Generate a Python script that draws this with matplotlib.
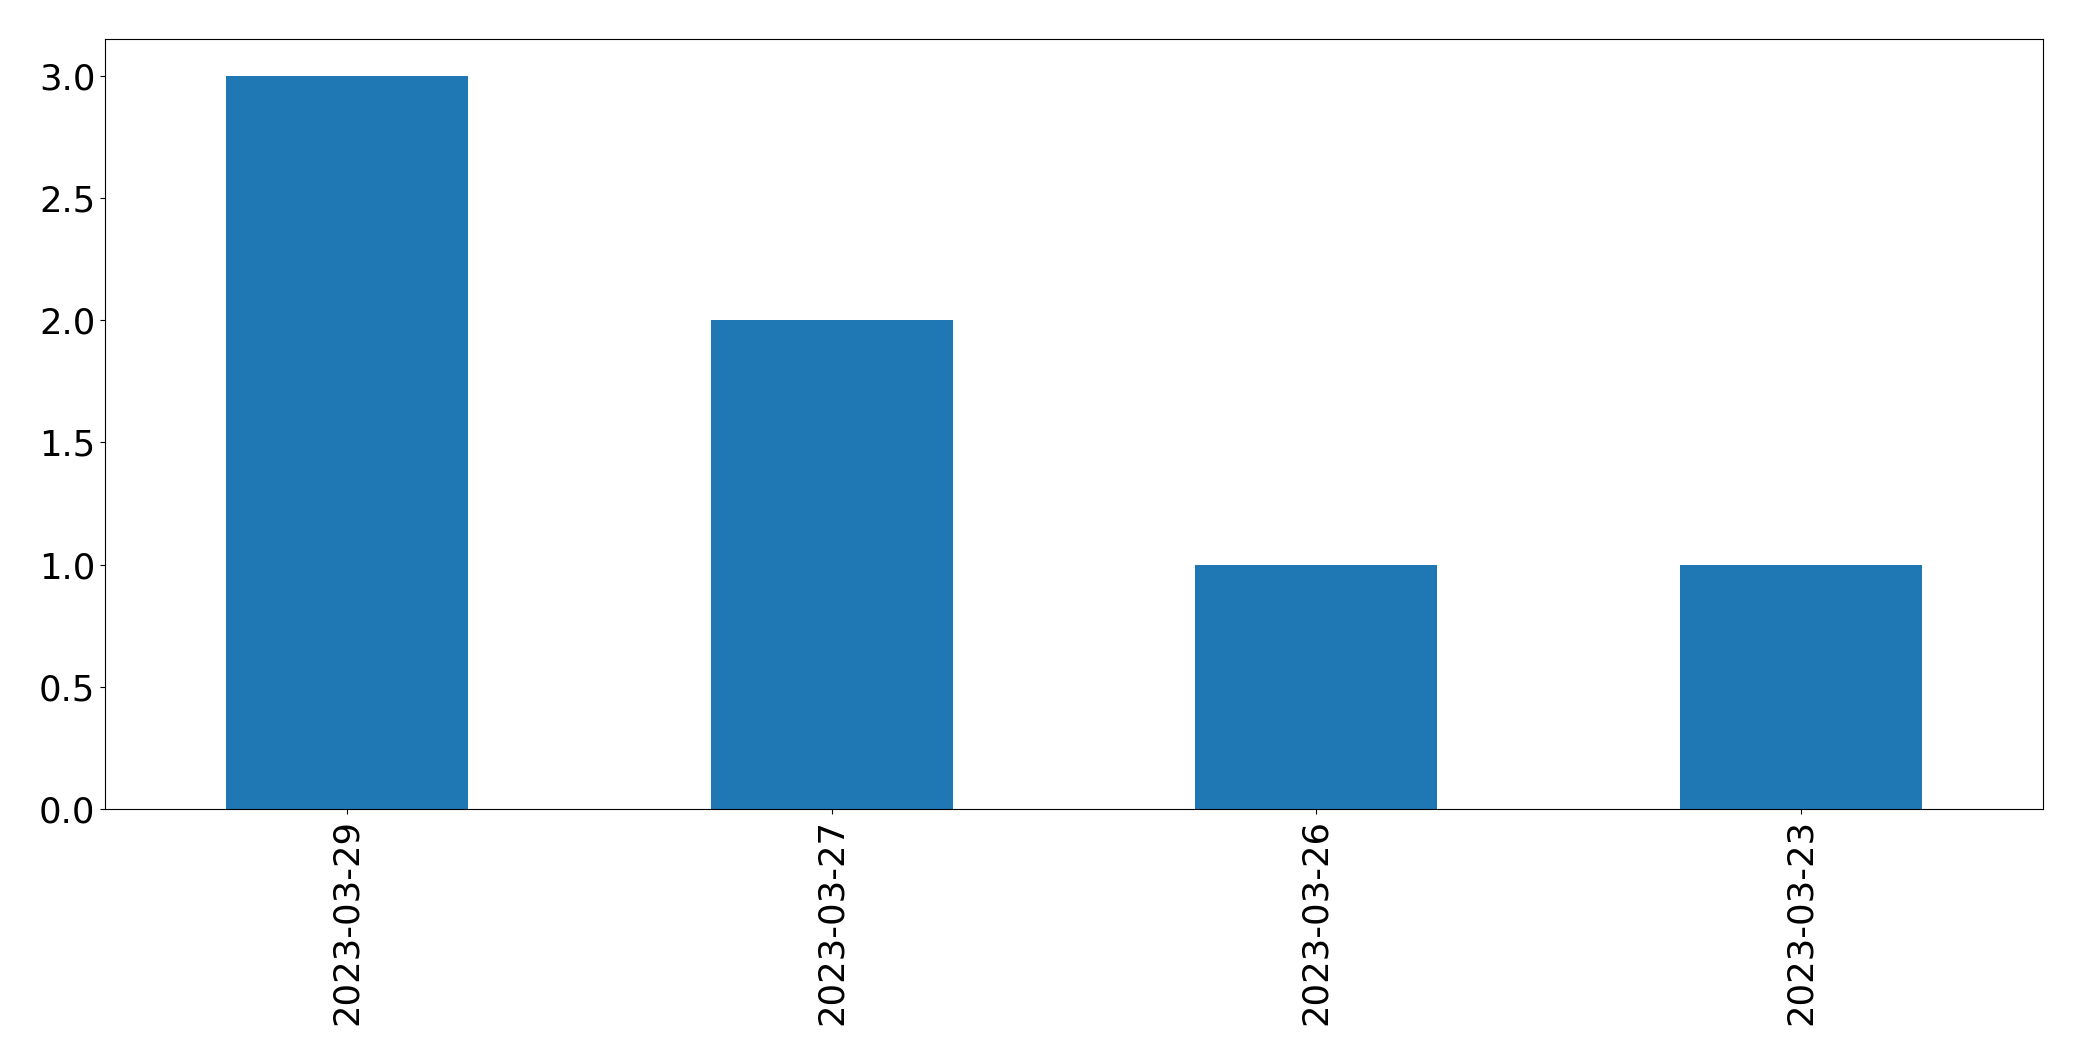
import matplotlib
matplotlib.use("Agg")
import matplotlib.pyplot as plt

dates = ["2023-03-29", "2023-03-27", "2023-03-26", "2023-03-23"]
counts = [3, 2, 1, 1]

fig = plt.figure(figsize=(20.82, 10.61), dpi=100)
ax = fig.add_axes([105 / 2082, 1 - 809 / 1061, (2043 - 105) / 2082, (809 - 39) / 1061])
x = list(range(len(dates)))
ax.bar(x, counts, width=0.5, color="#1f77b4")
ax.set_xlim(-0.5, len(dates) - 0.5)
ax.set_ylim(0, 3.15)
ax.set_xticks(x)
ax.set_xticklabels(dates, rotation=90)
ax.tick_params(labelsize=25.5)
fig.savefig("out.png", dpi=100)
